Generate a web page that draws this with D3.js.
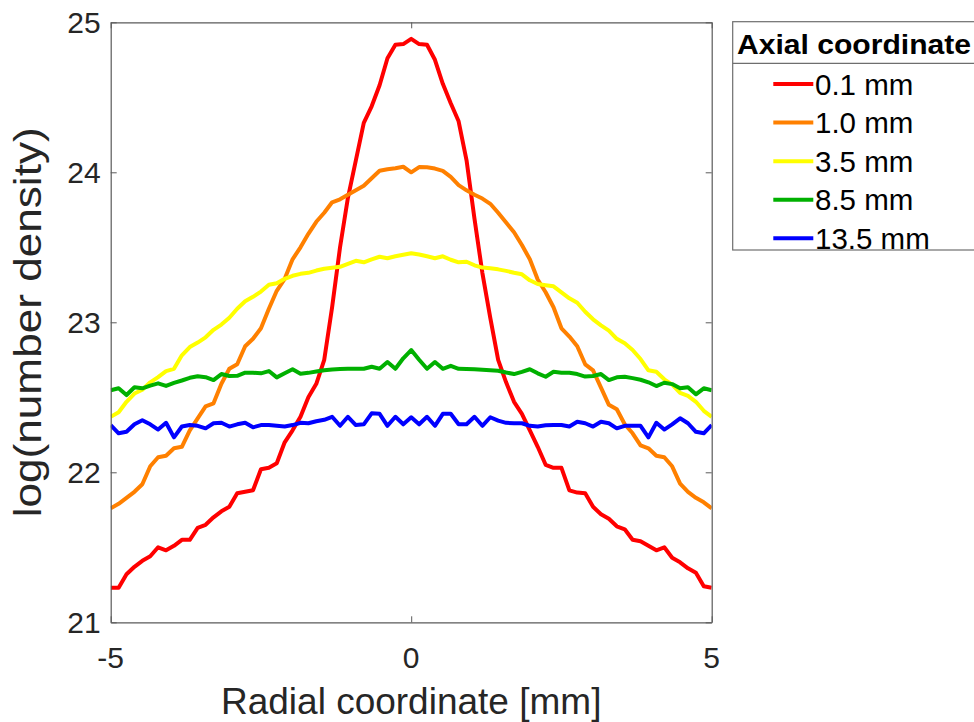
<!DOCTYPE html>
<html>
<head>
<meta charset="utf-8">
<script src="https://cdn.jsdelivr.net/npm/d3@7"></script>
<style>
  html, body { margin: 0; padding: 0; background: #fff; }
  svg { display: block; }
</style>
</head>
<body>
<svg id="chart" width="974" height="722"></svg>
<script>
// Radial sample positions [mm]
const radial = [
  -5.000, -4.868, -4.737, -4.605, -4.474, -4.342, -4.211, -4.079, -3.947, -3.816,
  -3.684, -3.553, -3.421, -3.289, -3.158, -3.026, -2.895, -2.763, -2.632, -2.500,
  -2.368, -2.237, -2.105, -1.974, -1.842, -1.711, -1.579, -1.447, -1.316, -1.184,
  -1.053, -0.921, -0.789, -0.658, -0.526, -0.395, -0.263, -0.132, 0.000,
   0.132,  0.263,  0.395,  0.526,  0.658,  0.789,  0.921,  1.053,  1.184,  1.316,
   1.447,  1.579,  1.711,  1.842,  1.974,  2.105,  2.237,  2.368,  2.500,  2.632,
   2.763,  2.895,  3.026,  3.158,  3.289,  3.421,  3.553,  3.684,  3.816,  3.947,
   4.079,  4.211,  4.342,  4.474,  4.605,  4.737,  4.868,  5.000
];

// log(number density) profiles at each axial position
const density01 = [
  21.23, 21.23, 21.32, 21.37, 21.41, 21.44, 21.50, 21.48, 21.51, 21.55,
  21.55, 21.63, 21.65, 21.70, 21.74, 21.77, 21.86, 21.87, 21.88, 22.02,
  22.03, 22.06, 22.20, 22.28, 22.37, 22.50, 22.59, 22.75, 23.10, 23.50,
  23.83, 24.08, 24.33, 24.44, 24.58, 24.76, 24.85, 24.855, 24.89,
  24.855, 24.85, 24.75, 24.59, 24.46, 24.34, 24.08, 23.69, 23.33, 23.03,
  22.75, 22.60, 22.47, 22.39, 22.28, 22.17, 22.05, 22.03, 22.03, 21.88,
  21.865, 21.86, 21.77, 21.72, 21.69, 21.64, 21.62, 21.55, 21.54, 21.51,
  21.48, 21.50, 21.43, 21.40, 21.36, 21.33, 21.24, 21.23
];
const density10 = [
  21.76, 21.79, 21.83, 21.87, 21.92, 22.04, 22.10, 22.11, 22.16, 22.17,
  22.28, 22.36, 22.44, 22.46, 22.59, 22.69, 22.72, 22.84, 22.89, 22.96,
  23.09, 23.21, 23.29, 23.42, 23.50, 23.59, 23.67, 23.73, 23.80, 23.82,
  23.85, 23.88, 23.91, 23.96, 24.01, 24.02, 24.027, 24.037, 24.00,
  24.035, 24.033, 24.025, 24.01, 23.97, 23.915, 23.88, 23.85, 23.825, 23.79,
  23.73, 23.665, 23.60, 23.515, 23.42, 23.285, 23.20, 23.10, 22.96, 22.905,
  22.84, 22.72, 22.68, 22.565, 22.45, 22.42, 22.32, 22.26, 22.18, 22.16,
  22.11, 22.10, 22.04, 21.925, 21.87, 21.83, 21.80, 21.76
];
const density35 = [
  22.37, 22.40, 22.47, 22.525, 22.55, 22.60, 22.635, 22.675, 22.69, 22.78,
  22.835, 22.865, 22.90, 22.95, 22.985, 23.03, 23.09, 23.14, 23.17, 23.205,
  23.25, 23.26, 23.29, 23.31, 23.323, 23.33, 23.345, 23.357, 23.363, 23.37,
  23.39, 23.41, 23.40, 23.42, 23.437, 23.427, 23.44, 23.45, 23.46,
  23.452, 23.44, 23.427, 23.44, 23.417, 23.40, 23.404, 23.38, 23.365, 23.36,
  23.353, 23.343, 23.33, 23.32, 23.28, 23.255, 23.247, 23.24, 23.20, 23.16,
  23.13, 23.07, 23.02, 22.98, 22.945, 22.89, 22.86, 22.815, 22.755, 22.68,
  22.67, 22.62, 22.585, 22.53, 22.51, 22.47, 22.41, 22.37
];
const density85 = [
  22.547, 22.56, 22.515, 22.567, 22.56, 22.578, 22.593, 22.576, 22.596, 22.612,
  22.63, 22.64, 22.634, 22.615, 22.655, 22.642, 22.643, 22.664, 22.664, 22.66,
  22.675, 22.633, 22.66, 22.687, 22.657, 22.663, 22.672, 22.68, 22.686, 22.688,
  22.69, 22.69, 22.69, 22.704, 22.69, 22.735, 22.69, 22.76, 22.815,
  22.75, 22.69, 22.735, 22.69, 22.71, 22.69, 22.688, 22.687, 22.683, 22.68,
  22.677, 22.665, 22.655, 22.67, 22.687, 22.66, 22.637, 22.67, 22.664, 22.664,
  22.655, 22.638, 22.642, 22.655, 22.615, 22.633, 22.637, 22.628, 22.617, 22.60,
  22.575, 22.597, 22.588, 22.56, 22.567, 22.52, 22.56, 22.547
];
const density135 = [
  22.315, 22.26, 22.27, 22.32, 22.347, 22.32, 22.285, 22.33, 22.233, 22.305,
  22.315, 22.31, 22.293, 22.327, 22.33, 22.305, 22.32, 22.33, 22.30, 22.315,
  22.315, 22.31, 22.305, 22.315, 22.33, 22.327, 22.34, 22.35, 22.37, 22.31,
  22.37, 22.315, 22.32, 22.393, 22.39, 22.31, 22.37, 22.32, 22.367,
  22.32, 22.37, 22.31, 22.39, 22.39, 22.32, 22.32, 22.37, 22.31, 22.367,
  22.345, 22.33, 22.327, 22.327, 22.31, 22.305, 22.313, 22.315, 22.315, 22.305,
  22.337, 22.327, 22.305, 22.337, 22.327, 22.293, 22.31, 22.31, 22.31, 22.233,
  22.33, 22.285, 22.32, 22.36, 22.327, 22.27, 22.26, 22.315
];

const seriesLabels = ["0.1 mm", "1.0 mm", "3.5 mm", "8.5 mm", "13.5 mm"];
const seriesColors = ["#ff0000", "#ff8000", "#ffff00", "#00b000", "#0000ff"];
const seriesValues = [density01, density10, density35, density85, density135];

const xTicks = [-5, 0, 5];
const yTicks = [21, 22, 23, 24, 25];
const legendTitle = "Axial coordinate";
const xTitle = "Radial coordinate [mm]";
const yTitle = "log(number density)";

const svg = d3.select("#chart");
const font = "'Liberation Sans', Arial, Helvetica, sans-serif";
const textColor = "#262626";

const plot = { left: 110.7, right: 711.7, top: 22.3, bottom: 622.3 };
const x = d3.scaleLinear().domain([-5, 5]).range([plot.left, plot.right]);
const y = d3.scaleLinear().domain([21, 25]).range([plot.bottom, plot.top]);

// Data lines, clipped to the axes box
svg.append("defs").append("clipPath").attr("id", "plotClip")
  .append("rect")
  .attr("x", plot.left).attr("y", plot.top)
  .attr("width", plot.right - plot.left).attr("height", plot.bottom - plot.top);

const line = d3.line().x((d, i) => x(radial[i])).y(d => y(d));
const lines = svg.append("g").attr("clip-path", "url(#plotClip)");
seriesValues.forEach((vals, k) => {
  lines.append("path")
    .datum(vals)
    .attr("d", line)
    .attr("fill", "none")
    .attr("stroke", seriesColors[k])
    .attr("stroke-width", 4)
    .attr("stroke-linejoin", "round")
    .attr("stroke-linecap", "butt");
});

// Axes box with inward ticks on all four sides
const tickLen = 6;
const axisColor = "#5a5a5a";
const axisBottom = d3.axisBottom(x).tickValues(xTicks).tickSizeInner(-tickLen).tickSizeOuter(0).tickFormat("");
const axisTop = d3.axisTop(x).tickValues(xTicks).tickSizeInner(-tickLen).tickSizeOuter(0).tickFormat("");
const axisLeft = d3.axisLeft(y).tickValues(yTicks).tickSizeInner(-tickLen).tickSizeOuter(0).tickFormat("");
const axisRight = d3.axisRight(y).tickValues(yTicks).tickSizeInner(-tickLen).tickSizeOuter(0).tickFormat("");

function styleAxis(g) {
  g.selectAll("path.domain").attr("stroke", axisColor).attr("stroke-width", 1.2);
  g.selectAll(".tick line").attr("stroke", axisColor).attr("stroke-width", 1);
}
svg.append("g").attr("transform", `translate(0,${plot.bottom})`).call(axisBottom).call(styleAxis);
svg.append("g").attr("transform", `translate(0,${plot.top})`).call(axisTop).call(styleAxis);
svg.append("g").attr("transform", `translate(${plot.left},0)`).call(axisLeft).call(styleAxis);
svg.append("g").attr("transform", `translate(${plot.right},0)`).call(axisRight).call(styleAxis);

// Tick labels
svg.append("g").selectAll("text").data(xTicks).join("text")
  .attr("x", d => x(d)).attr("y", 668)
  .attr("text-anchor", "middle")
  .attr("font-family", font).attr("font-size", 30).attr("fill", textColor)
  .text(d => d);
svg.append("g").selectAll("text").data(yTicks).join("text")
  .attr("x", plot.left - 10).attr("y", d => y(d)).attr("dy", "0.36em")
  .attr("text-anchor", "end")
  .attr("font-family", font).attr("font-size", 30).attr("fill", textColor)
  .text(d => d);

// Axis titles
svg.append("text")
  .attr("x", x(0)).attr("y", 714)
  .attr("text-anchor", "middle")
  .attr("font-family", font).attr("font-size", 37).attr("fill", textColor)
  .text(xTitle);
svg.append("text")
  .attr("transform", `translate(41,${(plot.top + plot.bottom) / 2}) rotate(-90)`)
  .attr("text-anchor", "middle")
  .attr("font-family", font).attr("font-size", 38).attr("fill", textColor)
  .attr("textLength", 390).attr("lengthAdjust", "spacingAndGlyphs")
  .text(yTitle);

// Legend
const legend = svg.append("g");
legend.append("rect")
  .attr("x", 732.7).attr("y", 21.7).attr("width", 260).attr("height", 228.3)
  .attr("fill", "#fff").attr("stroke", "#6e6e6e").attr("stroke-width", 1.2);
legend.append("line")
  .attr("x1", 732.7).attr("x2", 990).attr("y1", 63.3).attr("y2", 63.3)
  .attr("stroke", "#6e6e6e").attr("stroke-width", 1.2);
legend.append("text")
  .attr("x", 737).attr("y", 54)
  .attr("font-family", font).attr("font-size", 27).attr("font-weight", "bold").attr("fill", "#000")
  .attr("textLength", 234).attr("lengthAdjust", "spacingAndGlyphs")
  .text(legendTitle);

const legendRow = d3.scaleLinear().domain([0, 4]).range([84, 238.3]);
const rows = legend.selectAll("g.row").data(seriesLabels).join("g").attr("class", "row");
rows.append("line")
  .attr("x1", 773.3).attr("x2", 813.3)
  .attr("y1", (d, i) => legendRow(i)).attr("y2", (d, i) => legendRow(i))
  .attr("stroke", (d, i) => seriesColors[i]).attr("stroke-width", 4);
rows.append("text")
  .attr("x", 815).attr("y", (d, i) => legendRow(i)).attr("dy", "0.36em")
  .attr("font-family", font).attr("font-size", 29.5).attr("fill", "#000")
  .text(d => d);
</script>
</body>
</html>
